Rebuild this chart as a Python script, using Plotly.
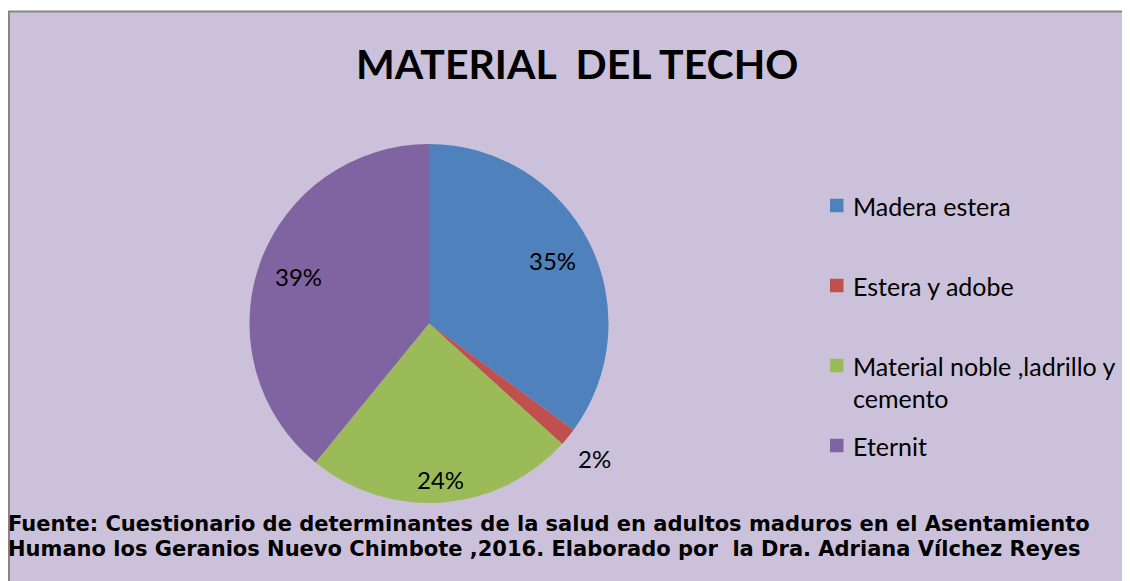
import math
import plotly.graph_objects as go

# ---- data ----
labels = ["Madera estera", "Estera y adobe", "Material noble ,ladrillo y cemento", "Eternit"]
legend_lines = [["Madera estera"], ["Estera y adobe"], ["Material noble ,ladrillo y", "cemento"], ["Eternit"]]
values = [35.1, 1.6, 24.2, 39.1]
pct_labels = ["35%", "2%", "24%", "39%"]
colors = ["#4F81BD", "#C0504D", "#9BBB59", "#8064A2"]

title_text = "MATERIAL  DEL TECHO"
source_lines = [
    "Fuente: Cuestionario de determinantes de la salud en adultos maduros en el Asentamiento",
    "Humano los Geranios Nuevo Chimbote ,2016. Elaborado por  la Dra. Adriana Vílchez Reyes",
]

# ---- layout constants (screen pixels) ----
W, H = 1130, 581
OFF = 8  # page body margin offset
cx, cy, R = 429, 323.5, 179.5
label_radius = [0.773, 1.19, 0.87, 0.773]
legend_sq_x, legend_sq = 830, 13.5
legend_text_x = 851
legend_rows_y = [205.5, 285.5, 365.5, 445.5]
legend_line_gap = 32
BG = "#CCC1DA"
FONT = "Lato"


def px(x):
    return (x - OFF) / W


def py(y):
    return 1 - (y - OFF) / H


fig = go.Figure()
fig.add_trace(go.Pie(
    labels=labels,
    values=values,
    marker=dict(colors=colors, line=dict(width=0)),
    sort=False,
    direction="clockwise",
    rotation=0,
    textinfo="none",
    hoverinfo="label+percent",
    showlegend=False,
    domain=dict(x=[px(cx - R), px(cx + R)], y=[py(cy + R), py(cy - R)]),
))

annotations = []
shapes = []

# background panel with border
shapes.append(dict(type="rect", xref="paper", yref="paper",
                   x0=px(OFF + 1), x1=1.05, y0=-0.05, y1=py(11.5),
                   fillcolor=BG, line=dict(color="#868686", width=2), layer="below"))

# percentage labels computed from the values
total = sum(values)
cum = 0.0
for v, t, f in zip(values, pct_labels, label_radius):
    mid = (cum + v / 2) / total * 2 * math.pi
    cum += v
    lx = cx + f * R * math.sin(mid)
    ly = cy - f * R * math.cos(mid)
    annotations.append(dict(x=px(lx), y=py(ly), xref="paper", yref="paper",
                            text=t, showarrow=False, xanchor="center", yanchor="middle",
                            font=dict(family=FONT, size=24, color="black")))

# legend
for i, (lines, c) in enumerate(zip(legend_lines, colors)):
    yc = legend_rows_y[i]
    shapes.append(dict(type="rect", xref="paper", yref="paper",
                       x0=px(legend_sq_x), x1=px(legend_sq_x + legend_sq),
                       y0=py(yc + legend_sq / 2), y1=py(yc - legend_sq / 2),
                       fillcolor=c, line=dict(width=0)))
    for j, t in enumerate(lines):
        annotations.append(dict(x=px(legend_text_x), y=py(yc + 0.5 + j * legend_line_gap),
                                xref="paper", yref="paper",
                                text=t, showarrow=False, xanchor="left", yanchor="middle",
                                align="left",
                                font=dict(family=FONT, size=25, color="black")))

# title
annotations.append(dict(x=px(577), y=py(64), xref="paper", yref="paper",
                        text="<b>" + title_text + "</b>", showarrow=False,
                        xanchor="center", yanchor="middle",
                        font=dict(family=FONT, size=41, color="black")))

# source
for i, line in enumerate(source_lines):
    annotations.append(dict(x=px(6), y=py(524 + 24.5 * i), xref="paper", yref="paper",
                            text="<b>" + line + "</b>", showarrow=False,
                            xanchor="left", yanchor="middle",
                            font=dict(family="DejaVu Sans", size=21, color="black")))

fig.update_layout(
    width=W, height=H,
    margin=dict(l=0, r=0, t=0, b=0),
    paper_bgcolor="white",
    plot_bgcolor="white",
    shapes=shapes,
    annotations=annotations,
)

fig.write_html("out.html")
